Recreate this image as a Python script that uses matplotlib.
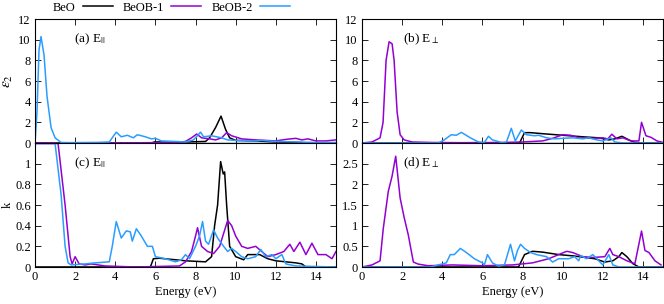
import numpy as np
import matplotlib.pyplot as plt

plt.rcParams["font.family"] = ["Liberation Serif", "DejaVu Serif"]
plt.rcParams["mathtext.fontset"] = "stix"
plt.rcParams["font.size"] = 9

labels = ["BeO", "BeOB-1", "BeOB-2"]
colors = ["black", "#9400d3", "#2a9dff"]

# (a) eps2, E parallel
a_beo_x = [0, 5.8, 5.95, 6.5, 7.5, 8.5, 8.7, 9.0, 9.27, 9.5, 9.7, 10.0, 11.0, 12.0, 13.2, 13.5, 15]
a_beo_y = [0, 0, 0.1, 0.1, 0.1, 0.15, 0.5, 1.5, 2.6, 1.3, 0.5, 0.25, 0.2, 0.1, 0.05, 0, 0]
a_b1_x = [0, 1.05, 1.15, 1.2, 1.3, 1.45, 2.0, 5.0, 7.0, 7.5, 7.8, 8.06, 8.3, 8.7, 9.0, 9.3, 9.55,
          9.8, 10.3, 11.0, 12.0, 12.5, 13.0, 13.3, 13.6, 14.0, 14.5, 15]
a_b1_y = [0, 0, -1.0, -2.5, -1.0, 0, 0.03, 0.02, 0.05, 0.15, 0.5, 0.87, 0.5, 0.4, 0.3, 0.5, 1.0,
          0.7, 0.4, 0.3, 0.2, 0.35, 0.45, 0.3, 0.4, 0.2, 0.2, 0.3]
a_b2_x = [0, 0.1, 0.2, 0.3, 0.45, 0.6, 0.8, 1.0, 1.3, 2.0, 3.0, 3.7, 4.05, 4.3, 4.6, 4.9, 5.1, 5.5,
          5.8, 6.0, 6.3, 7.0, 7.5, 7.9, 8.25, 8.4, 8.8, 9.3, 9.6, 10.0, 11.0, 11.3, 12.0, 13.0, 14.0, 15]
a_b2_y = [0, 3.0, 9.0, 10.3, 8.5, 4.5, 1.5, 0.5, 0.05, 0.03, 0.05, 0.1, 1.05, 0.6, 0.75, 0.5, 0.8, 0.6,
          0.4, 0.45, 0.2, 0.15, 0.1, 0.3, 1.05, 0.6, 0.7, 0.5, 0.3, 0.25, 0.2, 0.25, 0.15, 0.1, 0.05, 0.05]

# (b) eps2, E perpendicular
b_beo_x = [0, 7.85, 8.1, 8.4, 9.0, 10.0, 11.0, 11.8, 12.3, 12.6, 12.95, 13.3, 13.6, 14.0, 15]
b_beo_y = [0, 0, 1.0, 1.0, 0.9, 0.75, 0.6, 0.5, 0.3, 0.4, 0.65, 0.3, 0.05, 0, 0]
b_b1_x = [0, 0.5, 0.9, 1.05, 1.2, 1.35, 1.5, 1.6, 1.75, 1.9, 2.1, 2.5, 3.5, 5.0, 7.0, 8.0, 9.0, 9.5,
          10.0, 10.4, 10.8, 11.5, 12.0, 12.25, 12.45, 12.7, 13.0, 13.4, 13.8, 13.93, 14.15, 14.4, 14.7, 15]
b_b1_y = [0, 0.1, 0.5, 2.0, 8.0, 9.8, 9.6, 8.0, 3.0, 0.8, 0.3, 0.1, 0.05, 0.03, 0.05, 0.1, 0.2, 0.45,
          0.8, 0.75, 0.5, 0.45, 0.5, 0.4, 0.85, 0.4, 0.5, 0.2, 0.2, 2.0, 0.7, 0.55, 0.2, 0.05]
b_b2_x = [0, 3.8, 4.1, 4.45, 4.7, 4.95, 5.4, 5.8, 6.1, 6.3, 6.5, 7.0, 7.2, 7.44, 7.64, 7.94, 8.2, 8.6,
          8.8, 9.2, 9.6, 10.0, 10.5, 11.0, 11.3, 11.7, 12.0, 12.4, 12.6, 13.0, 15]
b_b2_y = [0, 0, 0.3, 0.8, 0.75, 1.03, 0.5, 0.1, 0.05, 0.65, 0.3, 0.02, 0.1, 1.42, 0.2, 1.26, 0.8, 0.7,
          0.75, 0.5, 0.4, 0.45, 0.5, 0.4, 0.5, 0.3, 0.2, 0.5, 0.1, 0, 0]

# (c) k, E parallel
c_beo_x = [0, 5.75, 5.9, 6.2, 7.0, 7.5, 8.5, 8.8, 8.95, 9.1, 9.25, 9.38, 9.45, 9.55, 9.7, 10.0, 10.4,
           10.6, 11.2, 11.6, 12.0, 12.5, 13.0, 13.3, 13.5, 15]
c_beo_y = [0, 0, 0.08, 0.085, 0.07, 0.06, 0.05, 0.1, 0.4, 0.6, 1.02, 0.9, 0.92, 0.6, 0.2, 0.1, 0.07,
           0.12, 0.12, 0.08, 0.06, 0.05, 0.04, 0.03, 0, 0]
c_b1_x = [0, 1.15, 1.5, 1.75, 1.85, 2.0, 2.2, 2.5, 2.8, 3.5, 5.0, 7.2, 7.5, 7.8, 8.0, 8.1, 8.3, 8.6,
          8.9, 9.2, 9.6, 9.8, 10.0, 10.3, 10.6, 11.0, 11.3, 11.6, 12.0, 12.4, 12.7, 12.9, 13.2, 13.5,
          13.8, 14.1, 14.5, 14.8, 15]
c_b1_y = [1.195, 1.195, 0.6, 0.1, 0.03, 0.1, 0.03, 0.02, 0.03, 0.01, 0.0, 0.01, 0.05, 0.15, 0.3, 0.38,
          0.2, 0.15, 0.13, 0.2, 0.45, 0.4, 0.3, 0.2, 0.18, 0.2, 0.15, 0.1, 0.12, 0.15, 0.22, 0.15, 0.24,
          0.12, 0.23, 0.12, 0.12, 0.08, 0.15]
c_b2_x = [0, 1.0, 1.3, 1.5, 1.65, 1.8, 2.5, 3.0, 3.7, 3.85, 4.05, 4.3, 4.55, 4.75, 4.85, 5.05, 5.3, 5.6,
          5.85, 6.0, 6.5, 7.0, 7.3, 7.5, 7.7, 8.0, 8.2, 8.35, 8.5, 8.65, 8.9, 9.1, 9.4, 9.6, 9.8, 10.0,
          10.3, 10.6, 11.0, 11.25, 11.5, 11.8, 12.0, 12.3, 12.5, 13.0, 15]
c_b2_y = [1.195, 1.195, 0.7, 0.2, 0.04, 0.02, 0.03, 0.04, 0.05, 0.2, 0.44, 0.28, 0.35, 0.34, 0.25, 0.37,
          0.3, 0.2, 0.2, 0.1, 0.08, 0.05, 0.07, 0.12, 0.08, 0.2, 0.3, 0.44, 0.25, 0.22, 0.36, 0.28, 0.2,
          0.15, 0.18, 0.15, 0.1, 0.08, 0.1, 0.17, 0.1, 0.12, 0.08, 0.12, 0.03, 0.01, 0]

# (d) k, E perpendicular
d_beo_x = [0, 7.8, 7.9, 8.1, 8.5, 9.0, 9.8, 10.5, 11.0, 11.6, 12.1, 12.5, 12.8, 12.95, 13.2, 13.5, 13.8, 15]
d_beo_y = [0, 0, 0.1, 0.3, 0.38, 0.36, 0.3, 0.27, 0.24, 0.2, 0.12, 0.15, 0.25, 0.35, 0.25, 0.08, 0, 0]
d_b1_x = [0, 0.5, 0.9, 1.06, 1.31, 1.5, 1.68, 1.9, 2.1, 2.31, 2.45, 2.56, 2.8, 3.3, 4.5, 6.0, 7.5, 8.5,
          9.3, 9.8, 10.2, 10.5, 11.0, 11.5, 12.1, 12.35, 12.5, 12.8, 13.2, 13.6, 13.93, 14.1, 14.3, 14.6, 14.9]
d_b1_y = [0, 0.05, 0.15, 0.93, 1.83, 2.2, 2.68, 1.67, 1.2, 0.77, 0.4, 0.12, 0.07, 0.03, 0.05, 0.03,
          0.05, 0.1, 0.2, 0.3, 0.38, 0.35, 0.25, 0.23, 0.25, 0.45, 0.3, 0.25, 0.15, 0.08, 0.87, 0.4, 0.35,
          0.15, 0.05]
d_b2_x = [0, 3.4, 3.8, 4.2, 4.4, 4.6, 4.9, 5.2, 5.6, 6.0, 6.1, 6.25, 6.5, 6.8, 7.1, 7.4, 7.6, 7.75, 7.9,
          8.1, 8.4, 8.7, 9.2, 9.5, 9.8, 10.3, 10.6, 10.8, 10.9, 11.2, 11.5, 11.8, 12.0, 12.3, 12.5, 12.8, 15]
d_b2_y = [0, 0, 0.05, 0.1, 0.3, 0.3, 0.45, 0.35, 0.2, 0.1, 0.05, 0.3, 0.1, 0.02, 0.05, 0.55, 0.15, 0.4,
          0.55, 0.45, 0.35, 0.3, 0.25, 0.12, 0.2, 0.2, 0.25, 0.15, 0.28, 0.2, 0.3, 0.15, 0.05, 0.3, 0.05, 0, 0]

panels = [
    ("(a) E$_{||}$", [(a_beo_x, a_beo_y), (a_b1_x, a_b1_y), (a_b2_x, a_b2_y)], 12, np.arange(0, 13, 2)),
    ("(b) E$_{\\perp}$", [(b_beo_x, b_beo_y), (b_b1_x, b_b1_y), (b_b2_x, b_b2_y)], 12, np.arange(0, 13, 2)),
    ("(c) E$_{||}$", [(c_beo_x, c_beo_y), (c_b1_x, c_b1_y), (c_b2_x, c_b2_y)], 1.2, [0, 0.2, 0.4, 0.6, 0.8, 1]),
    ("(d) E$_{\\perp}$", [(d_beo_x, d_beo_y), (d_b1_x, d_b1_y), (d_b2_x, d_b2_y)], 3.0, [0, 0.5, 1, 1.5, 2, 2.5]),
]
rects = [
    [35/664, 1-143/304, 301/664, 124/304],
    [362/664, 1-143/304, 301/664, 124/304],
    [35/664, 1-267/304, 301/664, 124/304],
    [362/664, 1-267/304, 301/664, 124/304],
]

fig = plt.figure(figsize=(6.64, 3.04), dpi=100)
axes = []
for i, (title, series, ymax, yt) in enumerate(panels):
    ax = fig.add_axes(rects[i])
    ax.axhline(0, color="#1f4e8c", lw=1.0, zorder=0)
    for (x, y), c, lab in zip(series, colors, labels):
        ax.plot(x, y, color=c, lw=1.1, label=lab)
    ax.set_xlim(0, 15)
    ax.set_ylim(0, ymax)
    ax.set_xticks(np.arange(0, 15, 2))
    ax.set_yticks(yt)
    ax.set_yticklabels([("%g" % v) for v in yt])
    ax.tick_params(direction="in", top=True, right=True, length=4, width=0.6, pad=3)
    for s in ax.spines.values():
        s.set_linewidth(0.8)
    ax.text(0.13 if i % 2 == 0 else 0.136, 0.84, title, transform=ax.transAxes,
            ha="left", va="center", fontsize=9.5)
    if i < 2:
        ax.set_xticklabels([])
    else:
        ax.set_xlabel("Energy (eV)", labelpad=2)
    axes.append(ax)

axes[0].set_ylabel(r"$\varepsilon_2$", fontsize=11)
axes[0].yaxis.set_label_coords(-0.066, 0.5)
axes[2].set_ylabel("k")
axes[2].yaxis.set_label_coords(-0.07, 0.5)

handles, labs = axes[0].get_legend_handles_labels()
fig.legend(handles, labs, ncol=3, markerfirst=False, loc="center",
           bbox_to_anchor=(0.258, 0.975), frameon=False, handlelength=2.4,
           columnspacing=0.8, handletextpad=0.6, fontsize=9)

fig.savefig("out.png", dpi=100)
